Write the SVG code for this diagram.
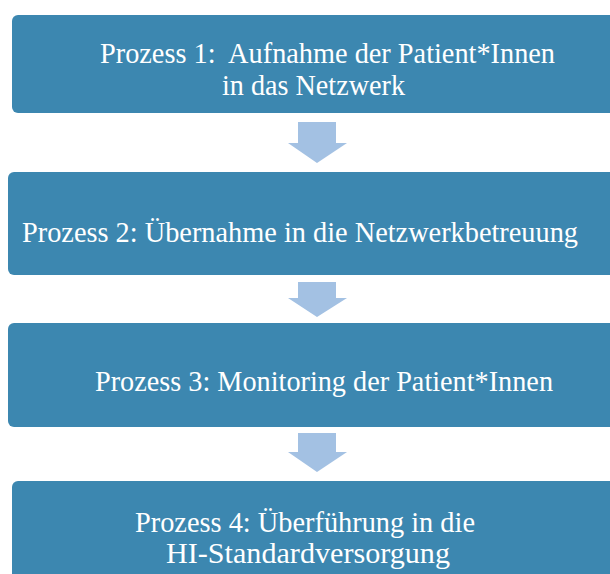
<svg xmlns="http://www.w3.org/2000/svg" width="610" height="574" viewBox="0 0 610 574">
<style>
.box{fill:#3c87b0;}
.t{font-family:"Liberation Serif","Times New Roman",serif;font-size:29px;fill:#ffffff;}
.arr{fill:#a3c1e3;}
</style>
<rect width="610" height="574" fill="#ffffff"/>
<g id="connectors">
<path class="arr" d="M298,122 H336 V143 H347 L317,163 L288,143 H298 Z"/>
<path class="arr" d="M298,282 H336 V298 H347 L317,317 L288,298 H298 Z"/>
<path class="arr" d="M298,433 H336 V452 H347 L317,472 L288,452 H298 Z"/>
</g>
<g id="p1">
<rect class="box" x="12" y="15" width="610" height="98" rx="6"/>
<text class="t" x="100" y="63" xml:space="preserve" textLength="455" lengthAdjust="spacingAndGlyphs">Prozess 1:  Aufnahme der Patient*Innen</text>
<text class="t" x="222" y="95" textLength="183" lengthAdjust="spacingAndGlyphs">in das Netzwerk</text>
</g>
<g id="p2">
<rect class="box" x="8" y="172" width="615" height="103" rx="6"/>
<text class="t" x="22" y="242" textLength="556" lengthAdjust="spacingAndGlyphs">Prozess 2: Übernahme in die Netzwerkbetreuung</text>
</g>
<g id="p3">
<rect class="box" x="8" y="323" width="615" height="104" rx="6"/>
<text class="t" x="95" y="391" textLength="458" lengthAdjust="spacingAndGlyphs">Prozess 3: Monitoring der Patient*Innen</text>
</g>
<g id="p4">
<rect class="box" x="12" y="481" width="612" height="110" rx="6"/>
<text class="t" x="135" y="532" textLength="340" lengthAdjust="spacingAndGlyphs">Prozess 4: Überführung in die</text>
<text class="t" x="166" y="563" textLength="284" lengthAdjust="spacingAndGlyphs">HI-Standardversorgung</text>
</g>
</svg>
